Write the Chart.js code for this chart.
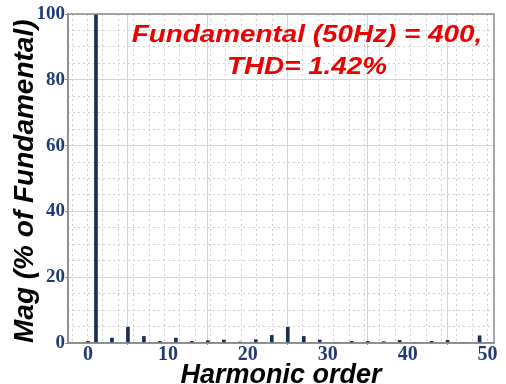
<!DOCTYPE html>
<html>
<head>
<meta charset="utf-8">
<script src="https://cdn.jsdelivr.net/npm/chart.js@4"></script>
<style>
  html, body { margin: 0; padding: 0; background: #fff; }
  #wrap { width: 506px; height: 384px; }
</style>
</head>
<body>
<div id="wrap"><canvas id="thdChart"></canvas></div>
<script>
// harmonic spectrum values (% of fundamental)
const harmonics = [0, 1, 3, 5, 7, 9, 11, 13, 15, 17, 19, 21, 23, 25, 27, 29, 31, 33, 35, 37, 39, 41, 43, 45, 47, 49];
const magnitudes = [0.5, 100, 1.5, 4.8, 2.0, 0.5, 1.5, 0.5, 0.7, 0.9, 0.3, 1.0, 2.3, 4.8, 2.0, 0.9, 0.2, 0.5, 0.5, 0.4, 0.8, 0.1, 0.5, 0.8, 0.1, 2.2];
const xTicks = [0, 10, 20, 30, 40, 50];
const yTicks = [0, 20, 40, 60, 80, 100];
const noteLines = ['Fundamental (50Hz) = 400,', 'THD= 1.42%'];

const navy = '#1b2f4e';
const tickBlue = '#1f3a78';

// frame + red note text (drawn a bit wide like the source picture)
const decorPlugin = {
    id: 'decor',
    afterDraw(chart) {
        const { ctx, chartArea: a } = chart;
        ctx.save();
        ctx.strokeStyle = '#8a8a8a';
        ctx.lineWidth = 1.5;
        ctx.strokeRect(a.left, a.top, a.right - a.left, a.bottom - a.top);
        ctx.fillStyle = '#ee0000';
        ctx.font = 'italic bold 24px "Liberation Sans", Arial, sans-serif';
        ctx.textAlign = 'center';
        ctx.translate(307, 0);
        ctx.scale(1.16, 1);
        ctx.fillText(noteLines[0], 0, 42);
        ctx.fillText(noteLines[1], 0, 74);
        ctx.restore();
    }
};

function fixedWidth(w) { return function(scale) { scale.width = w; }; }
function fixedHeight(h) { return function(scale) { scale.height = h; }; }

const ctx = document.getElementById('thdChart').getContext('2d');
new Chart(ctx, {
    type: 'bar',
    data: {
        datasets: [{
            data: harmonics.map((h, i) => ({ x: h, y: magnitudes[i] })),
            backgroundColor: navy,
            barThickness: 3,
            xAxisID: 'x',
            yAxisID: 'y'
        }]
    },
    options: {
        responsive: true,
        maintainAspectRatio: false,
        animation: false,
        layout: { padding: { top: 14, right: 12, left: 0, bottom: 0 } },
        plugins: { legend: { display: false }, tooltip: { enabled: false } },
        scales: {
            xMinor: {
                type: 'linear', position: 'bottom', min: -2.5, max: 50.8,
                afterBuildTicks: s => { s.ticks = []; for (let v = -2; v <= 50; v += 2) s.ticks.push({ value: v }); },
                ticks: { display: false },
                grid: { color: '#cfcfcf', lineWidth: 1, drawTicks: false },
                border: { display: false, dash: [2, 3] },
                afterFit: fixedHeight(0)
            },
            yMinor: {
                type: 'linear', position: 'left', min: 0, max: 100,
                afterBuildTicks: s => { s.ticks = []; for (let v = 0; v <= 100; v += 5) s.ticks.push({ value: v }); },
                ticks: { display: false },
                grid: { color: '#cfcfcf', lineWidth: 1, drawTicks: false },
                border: { display: false, dash: [2, 3] },
                afterFit: fixedWidth(0)
            },
            x: {
                type: 'linear', position: 'bottom', min: -2.5, max: 50.8,
                offset: false,
                afterBuildTicks: s => { s.ticks = xTicks.map(v => ({ value: v })); },
                ticks: {
                    color: tickBlue, padding: 0, maxRotation: 0,
                    font: { family: '"Liberation Serif", "Times New Roman", serif', weight: 'bold', size: 20, lineHeight: 1 }
                },
                grid: { color: '#d4d4d4', lineWidth: 1, tickLength: 2, tickColor: '#888' },
                border: { color: '#8a8a8a', width: 1.5 },
                title: {
                    display: true, text: 'Harmonic order', color: '#000', padding: { top: 0, bottom: -5 },
                    font: { family: '"Liberation Sans", Arial, sans-serif', style: 'italic', weight: 'bold', size: 27, lineHeight: 1 }
                },
                afterFit: fixedHeight(41)
            },
            y: {
                type: 'linear', position: 'left', min: 0, max: 100,
                afterBuildTicks: s => { s.ticks = yTicks.map(v => ({ value: v })); },
                ticks: {
                    color: tickBlue, padding: 0,
                    font: { family: '"Liberation Serif", "Times New Roman", serif', weight: 'bold', size: 19 }
                },
                grid: { color: '#d4d4d4', lineWidth: 1, tickLength: 3, tickColor: '#888' },
                border: { color: '#8a8a8a', width: 1.5 },
                title: {
                    display: true, text: 'Mag (% of Fundamental)', color: '#000', align: 'start',
                    padding: { top: 11, bottom: 0 },
                    font: { family: '"Liberation Sans", Arial, sans-serif', style: 'italic', weight: 'bold', size: 28, lineHeight: 1 }
                },
                afterFit: fixedWidth(68)
            }
        }
    },
    plugins: [decorPlugin]
});
</script>
</body>
</html>
